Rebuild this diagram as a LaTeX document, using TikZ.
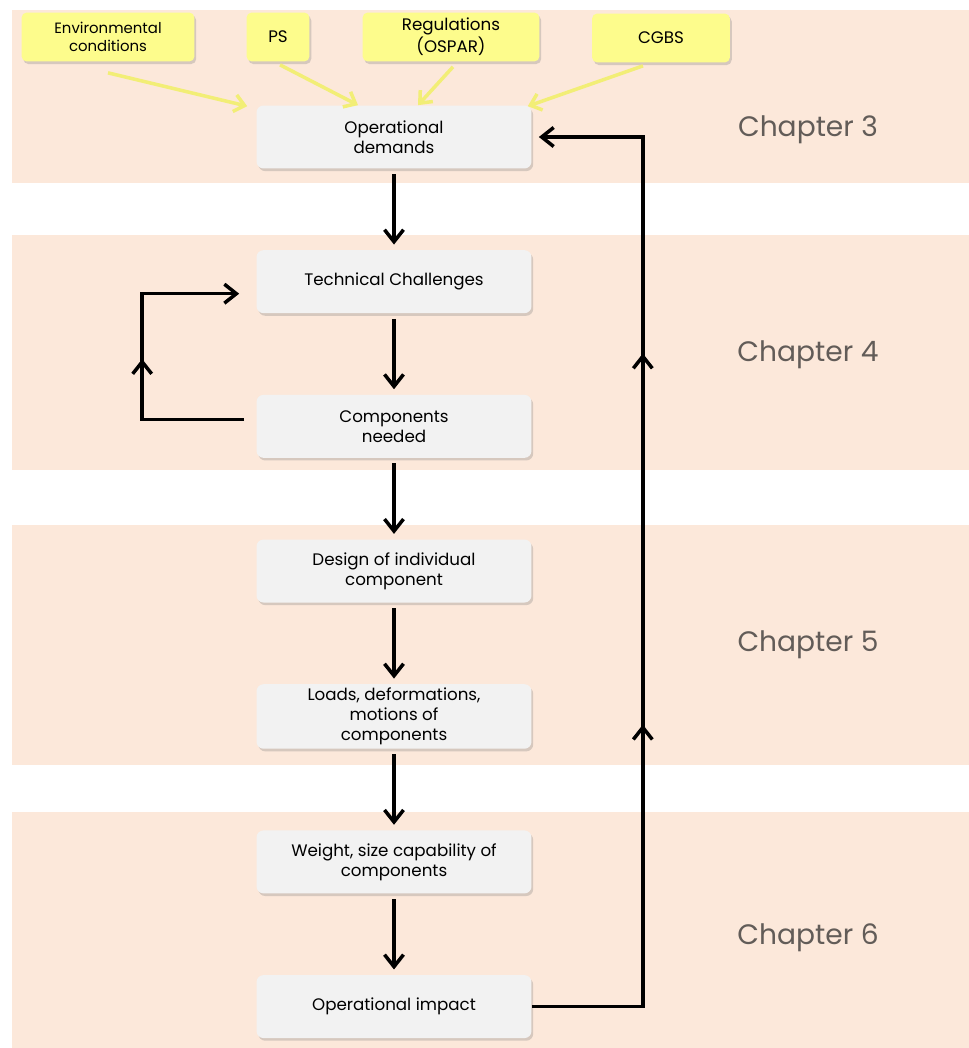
\documentclass[tikz,border=0pt]{standalone}
\usepackage{fontspec}
\setmainfont{Poppins}
\usetikzlibrary{positioning, arrows.meta, shadows, calc, decorations.markings}

\definecolor{bandpeach}{RGB}{252,232,218}
\definecolor{boxgrey}{RGB}{242,242,242}
\definecolor{noteyellow}{RGB}{253,252,140}
\definecolor{feedyellow}{RGB}{242,238,118}
\definecolor{chaptergrey}{RGB}{98,92,88}

\begin{document}
\begin{tikzpicture}[
    x=0.02cm, y=-0.02cm,
    >={Straight Barb[length=2.4mm, width=3.8mm]},
    node distance=1.62cm,
    stage/.style={rectangle, rounded corners=4pt, fill=boxgrey, minimum width=5.5cm,
        minimum height=1.26cm, inner sep=2pt, align=center, font=\fontsize{9.5}{11.5}\selectfont,
        drop shadow={shadow xshift=1pt, shadow yshift=-1.5pt, opacity=0.3}},
    input/.style={rectangle, rounded corners=3pt, fill=noteyellow, minimum height=0.98cm,
        inner sep=2pt, align=center, font=\fontsize{8.5}{10}\selectfont,
        drop shadow={shadow xshift=1pt, shadow yshift=-1.5pt, opacity=0.3}},
    flow/.style={->, line width=2pt, black},
    feed/.style={-{Straight Barb[length=2mm, width=3.4mm]}, line width=2pt, feedyellow},
    chapter/.style={font=\fontsize{16}{18}\selectfont, text=chaptergrey}
]
    \useasboundingbox (0,0) rectangle (969,1048);

    % Chapter bands
    \fill[bandpeach] (12,10) rectangle (969,183);
    \fill[bandpeach] (12,235) rectangle (969,470);
    \fill[bandpeach] (12,525) rectangle (969,765);
    \fill[bandpeach] (12,812) rectangle (969,1048);

    % Inputs
    \node[input, minimum width=3.46cm] (ENV) at (108,37) {Environmental\\conditions};
    \node[input, minimum width=1.26cm, font=\fontsize{9.5}{11}\selectfont] (PS) at (278,37) {PS};
    \node[input, minimum width=3.54cm, font=\fontsize{9.5}{11}\selectfont] (REG) at (451,37) {Regulations\\(OSPAR)};
    \node[input, minimum width=2.76cm, font=\fontsize{9.5}{11}\selectfont] (CGBS) at (661,38) {CGBS};

    % Stages
    \node[stage] (OD) at (394,137) {Operational\\demands};
    \node[stage] (TC) [below=of OD] {Technical Challenges};
    \node[stage] (CN) [below=of TC] {Components\\needed};
    \node[stage] (DIC) [below=of CN] {Design of individual\\component};
    \node[stage] (LDM) [below=of DIC] {Loads, deformations,\\motions of\\components};
    \node[stage] (WSC) [below=of LDM] {Weight, size capability of\\components};
    \node[stage] (OI) [below=of WSC] {Operational impact};

    % Chapters
    \node[chapter] (CH3) at (808,130) {Chapter 3};
    \node[chapter] (CH4) at (808,355) {Chapter 4};
    \node[chapter] (CH5) at (808,645) {Chapter 5};
    \node[chapter] (CH6) at (808,938) {Chapter 6};

    % Inputs into operational demands
    \draw[feed] ($(ENV.south)+(0,11)$) -- ($(OD.north west)+(-9,1)$);
    \draw[feed] ($(PS.south)+(2,3)$) -- ($(OD.north)+(-36,0)$);
    \draw[feed] ($(REG.south)+(2,5)$) -- ($(OD.north)+(24,0)$);
    \draw[feed] ($(CGBS.south)+(-18,3)$) -- ($(OD.north east)+(-4,1)$);

    % Main flow
    \draw[flow, shorten <=3pt, shorten >=3pt] (OD) -- (TC);
    \draw[flow, shorten <=3pt, shorten >=3pt] (TC) -- (CN);
    \draw[flow, shorten <=3pt, shorten >=3pt] (CN) -- (DIC);
    \draw[flow, shorten <=3pt, shorten >=3pt] (DIC) -- (LDM);
    \draw[flow, shorten <=3pt, shorten >=3pt] (LDM) -- (WSC);
    \draw[flow, shorten <=3pt, shorten >=3pt] (WSC) -- (OI);

    % Loop back to technical challenges
    \coordinate (loopL) at ($(TC.west)+(-114,12)$);
    \draw[flow, postaction=decorate, decoration={markings,
            mark=at position 0.5 with {\arrow{>}}}]
        ($(CN.west)+(-12,-7)$) -| (loopL) -- ($(TC.west)+(-17,12)$);

    % Feedback to operational demands
    \coordinate (fbtop) at ($(OD.east)+(111,0)$);
    \draw[flow, shorten >=4pt, postaction=decorate, decoration={markings,
            mark=at position 0.36 with {\arrow{>}},
            mark=at position 0.70 with {\arrow{>}}}]
        (OI.east) -| (fbtop) -- (OD.east);

\end{tikzpicture}
\end{document}
